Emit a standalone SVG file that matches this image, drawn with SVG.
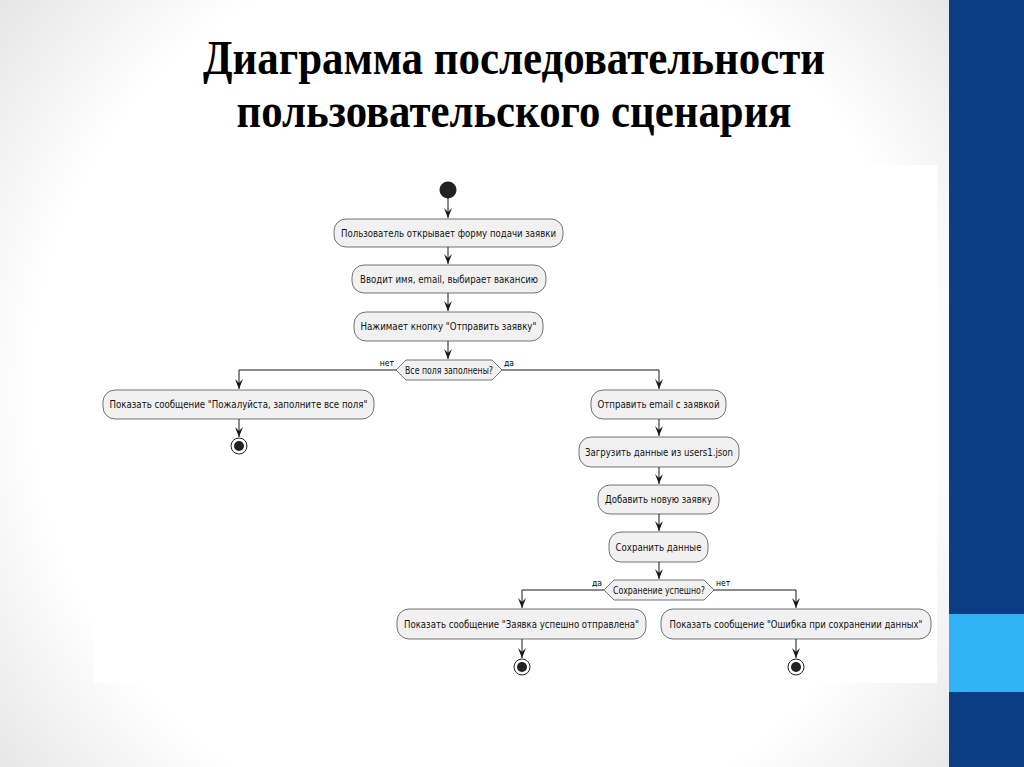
<svg xmlns="http://www.w3.org/2000/svg" width="1024" height="767" viewBox="0 0 1024 767">
<defs>
<radialGradient id="bg" cx="480" cy="390" r="640" gradientUnits="userSpaceOnUse">
<stop offset="0" stop-color="#ffffff"/>
<stop offset="0.7" stop-color="#ffffff"/>
<stop offset="1" stop-color="#e2e2e2"/>
</radialGradient>
<marker id="arr" markerUnits="userSpaceOnUse" markerWidth="10" markerHeight="8" refX="10" refY="4" orient="auto">
<path d="M0,0 L10,4 L0,8 L4,4 Z" fill="#181818"/>
</marker>
</defs>
<style>
.box{fill:#f1f1f1;stroke:#181818;stroke-width:0.6}
.t{font-family:"DejaVu Sans Condensed","DejaVu Sans",sans-serif;font-size:10px;fill:#111;text-anchor:middle}
.lbl{font-family:"DejaVu Sans Condensed","DejaVu Sans",sans-serif;font-size:8.5px;fill:#000}
.c{fill:none;stroke:#181818;stroke-width:1}
.title{font-family:"Liberation Serif","Times New Roman",serif;font-weight:bold;font-size:48px;fill:#000;text-anchor:middle}
</style>
<rect x="0" y="0" width="1024" height="767" fill="url(#bg)"/>
<rect x="949" y="0" width="75" height="767" fill="#0b3d84"/>
<rect x="949" y="614" width="75" height="78" fill="#30b4f7"/>
<rect x="94" y="165" width="843" height="518" fill="#ffffff"/>
<text class="title" x="514" y="74" textLength="622" lengthAdjust="spacingAndGlyphs">Диаграмма последовательности</text>
<text class="title" x="514" y="127" textLength="555" lengthAdjust="spacingAndGlyphs">пользовательского сценария</text>

<g id="connectors">
<line class="c" x1="448" y1="198" x2="448" y2="218" marker-end="url(#arr)"/>
<line class="c" x1="448" y1="247" x2="448" y2="264" marker-end="url(#arr)"/>
<line class="c" x1="448" y1="293" x2="448" y2="311" marker-end="url(#arr)"/>
<line class="c" x1="448" y1="341" x2="448" y2="359" marker-end="url(#arr)"/>
<polyline class="c" points="396,370 239,370 239,389" marker-end="url(#arr)"/>
<polyline class="c" points="502,370 659,370 659,389" marker-end="url(#arr)"/>
<line class="c" x1="239" y1="419" x2="239" y2="437" marker-end="url(#arr)"/>
<line class="c" x1="659" y1="419" x2="659" y2="436" marker-end="url(#arr)"/>
<line class="c" x1="659" y1="467" x2="659" y2="484" marker-end="url(#arr)"/>
<line class="c" x1="659" y1="514" x2="659" y2="531" marker-end="url(#arr)"/>
<line class="c" x1="659" y1="562" x2="659" y2="579" marker-end="url(#arr)"/>
<polyline class="c" points="604,590 522,590 522,608" marker-end="url(#arr)"/>
<polyline class="c" points="714,590 796,590 796,608" marker-end="url(#arr)"/>
<line class="c" x1="522" y1="639" x2="522" y2="658" marker-end="url(#arr)"/>
<line class="c" x1="796" y1="639" x2="796" y2="658" marker-end="url(#arr)"/>
<text class="lbl" x="394" y="366" text-anchor="end">нет</text>
<text class="lbl" x="504" y="366">да</text>
<text class="lbl" x="602" y="586" text-anchor="end">да</text>
<text class="lbl" x="716" y="586">нет</text>
</g>

<g id="start"><circle cx="448" cy="190" r="8.5" fill="#222"/></g>

<g id="n1"><rect class="box" x="334" y="219" width="229" height="28" rx="12"/>
<text class="t" x="448.5" y="236.5" textLength="215" lengthAdjust="spacingAndGlyphs">Пользователь открывает форму подачи заявки</text></g>

<g id="n2"><rect class="box" x="352" y="265" width="194" height="28" rx="12"/>
<text class="t" x="449" y="282.5" textLength="178" lengthAdjust="spacingAndGlyphs">Вводит имя, email, выбирает вакансию</text></g>

<g id="n3"><rect class="box" x="354" y="312" width="189" height="29" rx="12"/>
<text class="t" x="448.5" y="330" textLength="176" lengthAdjust="spacingAndGlyphs">Нажимает кнопку "Отправить заявку"</text></g>

<g id="d1"><polygon class="box" points="396,370 406,360 492,360 502,370 492,380 406,380"/>
<text class="t" x="449" y="373.5" textLength="88" lengthAdjust="spacingAndGlyphs">Все поля заполнены?</text></g>

<g id="n4"><rect class="box" x="103" y="390" width="271" height="29" rx="12"/>
<text class="t" x="238.5" y="408" textLength="258" lengthAdjust="spacingAndGlyphs">Показать сообщение "Пожалуйста, заполните все поля"</text></g>

<g id="end1"><circle cx="239" cy="446" r="8" fill="#fff" stroke="#222" stroke-width="1"/><circle cx="239" cy="446" r="5" fill="#222"/></g>

<g id="n5"><rect class="box" x="591" y="390" width="135" height="29" rx="12"/>
<text class="t" x="658.5" y="408" textLength="122" lengthAdjust="spacingAndGlyphs">Отправить email с заявкой</text></g>

<g id="n6"><rect class="box" x="579" y="437" width="160" height="30" rx="12"/>
<text class="t" x="659" y="455.5" textLength="148" lengthAdjust="spacingAndGlyphs">Загрузить данные из users1.json</text></g>

<g id="n7"><rect class="box" x="598" y="485" width="121" height="29" rx="12"/>
<text class="t" x="658.5" y="503" textLength="107" lengthAdjust="spacingAndGlyphs">Добавить новую заявку</text></g>

<g id="n8"><rect class="box" x="609" y="532" width="99" height="30" rx="12"/>
<text class="t" x="658.5" y="550.5" textLength="86" lengthAdjust="spacingAndGlyphs">Сохранить данные</text></g>

<g id="d2"><polygon class="box" points="604,590 614,580 704,580 714,590 704,600 614,600"/>
<text class="t" x="659" y="593.5" textLength="92" lengthAdjust="spacingAndGlyphs">Сохранение успешно?</text></g>

<g id="n9"><rect class="box" x="397" y="609" width="249" height="30" rx="12"/>
<text class="t" x="521.5" y="627.5" textLength="235" lengthAdjust="spacingAndGlyphs">Показать сообщение "Заявка успешно отправлена"</text></g>

<g id="n10"><rect class="box" x="661" y="609" width="270" height="30" rx="12"/>
<text class="t" x="796" y="627.5" textLength="253" lengthAdjust="spacingAndGlyphs">Показать сообщение "Ошибка при сохранении данных"</text></g>

<g id="end2"><circle cx="522" cy="667" r="8" fill="#fff" stroke="#222" stroke-width="1"/><circle cx="522" cy="667" r="5" fill="#222"/></g>
<g id="end3"><circle cx="796" cy="667" r="8" fill="#fff" stroke="#222" stroke-width="1"/><circle cx="796" cy="667" r="5" fill="#222"/></g>
</svg>
